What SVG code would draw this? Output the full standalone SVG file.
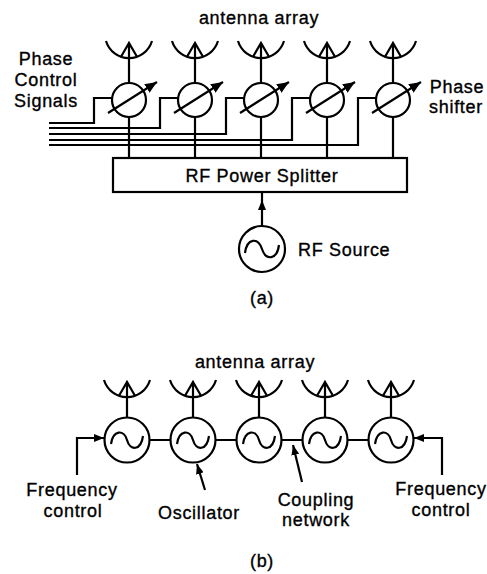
<svg xmlns="http://www.w3.org/2000/svg" width="487" height="574" viewBox="0 0 487 574">
<defs>
<style>
.ln{fill:none;stroke:#000;stroke-width:2.2;stroke-linecap:butt}
.c{fill:#fff;stroke:#000;stroke-width:2.2}
.t{font-family:"Liberation Sans",Arial,sans-serif;font-size:18px;letter-spacing:0.7px;fill:#000;stroke:#000;stroke-width:0.35px}
.m{text-anchor:middle}
</style>
<marker id="ah" viewBox="0 0 10 8" refX="10" refY="4" markerWidth="10" markerHeight="8" markerUnits="userSpaceOnUse" orient="auto">
<path d="M0,0 L10,4 L0,8 Z" fill="#000"/>
</marker>
<marker id="ahb" viewBox="0 0 12 10" refX="12" refY="5" markerWidth="12" markerHeight="10" markerUnits="userSpaceOnUse" orient="auto">
<path d="M0,0 L12,5 L0,10 Z" fill="#000"/>
</marker>
<g id="antTop">
<path class="ln" d="M-23,41 A24,24 0 0 0 23,41"/>
<path class="ln" d="M-8,56.7 L0,43 L8,56.7 M0,43 V83"/>
</g>
<g id="antBot">
<path class="ln" d="M-23,380 A24,24 0 0 0 23,380"/>
<path class="ln" d="M-8,395.7 L0,382 L8,395.7 M0,382 V417.5"/>
</g>
<g id="ps">
<circle class="c" cx="0" cy="100" r="17"/>
<line class="ln" x1="-21" y1="113" x2="28" y2="82" marker-end="url(#ahb)"/>
</g>
<g id="osc">
<circle class="c" cx="0" cy="440" r="22.5"/>
<path class="ln" d="M-16,444 C-14,430 -3,429 0,440 C3,451 14,451 16,436"/>
</g>
</defs>

<g id="connectors">
<path class="ln" d="M112,98 H94 V123 H49"/>
<path class="ln" d="M178,98 H160 V128 H49"/>
<path class="ln" d="M244,98 H226 V134 H49"/>
<path class="ln" d="M310,98 H292 V140 H49"/>
<path class="ln" d="M376,98 H358 V145 H49"/>
<path class="ln" d="M129,117 V158 M195,117 V158 M261,117 V158 M327,117 V158 M393,117 V158"/>
<line class="ln" x1="262" y1="226" x2="262" y2="192"/>
<path d="M258,210 L262,200 L266,210 Z" fill="#000"/>
<path class="ln" d="M149.5,440 H170.5 M215.5,440 H236.5 M281.5,440 H302.5 M347.5,440 H368.5"/>
<path class="ln" d="M77,475 V438 H104" marker-end="url(#ah)"/>
<path class="ln" d="M442,475 V438 H414" marker-end="url(#ah)"/>
<line class="ln" x1="205" y1="490" x2="197" y2="464" marker-end="url(#ah)"/>
<line class="ln" x1="302" y1="482" x2="293" y2="445" marker-end="url(#ah)"/>
</g>

<g id="antennas-a">
<use href="#antTop" x="129"/>
<use href="#antTop" x="195"/>
<use href="#antTop" x="261"/>
<use href="#antTop" x="327"/>
<use href="#antTop" x="393"/>
</g>
<g id="phase-shifters">
<use id="ps1" href="#ps" x="129"/>
<use id="ps2" href="#ps" x="195"/>
<use id="ps3" href="#ps" x="261"/>
<use id="ps4" href="#ps" x="327"/>
<use id="ps5" href="#ps" x="393"/>
</g>
<g id="splitter">
<rect x="113" y="158" width="294" height="34" fill="#fff" stroke="#000" stroke-width="2.2"/>
<text class="t m" x="262" y="182">RF Power Splitter</text>
</g>
<g id="rf-source">
<circle class="c" cx="262" cy="249" r="23"/>
<path class="ln" d="M245,253 C247,238 258,237 262,249 C266,261 277,260 279,245"/>
<text class="t" x="298" y="256">RF Source</text>
</g>
<g id="labels-a">
<text class="t m" x="259" y="24">antenna array</text>
<text class="t m" x="46" y="65">Phase</text>
<text class="t m" x="46" y="86">Control</text>
<text class="t m" x="46" y="107">Signals</text>
<text class="t m" x="457" y="93">Phase</text>
<text class="t m" x="456" y="113">shifter</text>
<text class="t m" x="262" y="304">(a)</text>
</g>

<g id="antennas-b">
<use href="#antBot" x="127"/>
<use href="#antBot" x="193"/>
<use href="#antBot" x="259"/>
<use href="#antBot" x="325"/>
<use href="#antBot" x="391"/>
</g>
<g id="oscillators">
<use id="osc1" href="#osc" x="127"/>
<use id="osc2" href="#osc" x="193"/>
<use id="osc3" href="#osc" x="259"/>
<use id="osc4" href="#osc" x="325"/>
<use id="osc5" href="#osc" x="391"/>
</g>
<g id="labels-b">
<text class="t m" x="255" y="368">antenna array</text>
<text class="t m" x="72" y="496">Frequency</text>
<text class="t m" x="73" y="517">control</text>
<text class="t m" x="199" y="519">Oscillator</text>
<text class="t m" x="316" y="506">Coupling</text>
<text class="t m" x="316" y="526">network</text>
<text class="t m" x="441" y="495">Frequency</text>
<text class="t m" x="441" y="516">control</text>
<text class="t m" x="262" y="567">(b)</text>
</g>
</svg>
